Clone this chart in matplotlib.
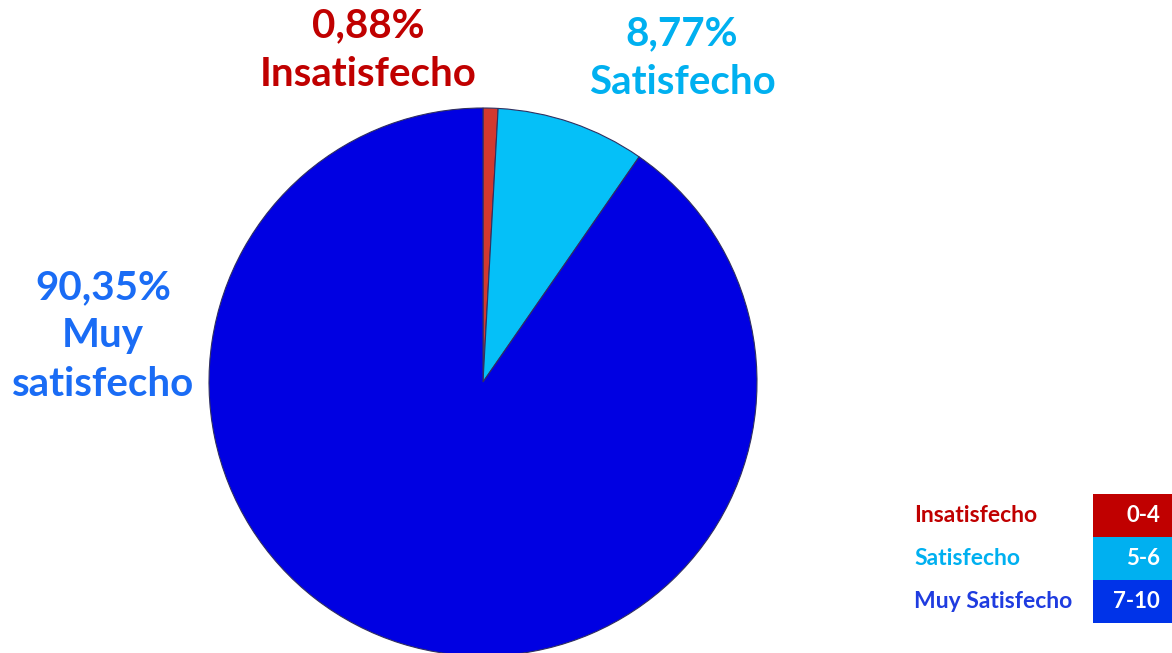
import matplotlib.pyplot as plt

plt.rcParams["font.family"] = ["Lato", "DejaVu Sans"]

CATEGORIES = ["Insatisfecho", "Satisfecho", "Muy Satisfecho"]
SHARES = [0.88, 8.77, 90.35]
LABELS = ["0,88%\nInsatisfecho", "8,77%\nSatisfecho", "90,35%\nMuy\nsatisfecho"]
RANGES = ["0-4", "5-6", "7-10"]

SLICE_COLORS = ["#D2392F", "#05C0F8", "#0000E2"]
TEXT_COLORS = ["#C00000", "#00B0F0", "#1A6CF5"]
LEGEND_TEXT = ["#C00000", "#00B0F0", "#1F3CE0"]
BOX_COLORS = ["#C00000", "#00B0F0", "#0033E8"]

W, H = 1172, 653
fig = plt.figure(figsize=(W / 100, H / 100), dpi=100)
ax = fig.add_axes([0, 0, 1, 1])

# pie in pixel coordinates (y measured from the bottom)
ax.pie(
    SHARES,
    colors=SLICE_COLORS,
    startangle=90,
    counterclock=False,
    center=(483, H - 382),
    radius=274,
    wedgeprops=dict(edgecolor="#303060", linewidth=0.8),
)
ax.set_xlim(0, W)
ax.set_ylim(0, H)
ax.set_aspect("equal")
ax.axis("off")

label_pos = [(368, H - 50), (682, H - 58), (103, H - 336)]
for (x, y), txt, col in zip(label_pos, LABELS, TEXT_COLORS):
    ax.text(x, y, txt, ha="center", va="center", color=col,
            fontsize=29, fontweight="bold", linespacing=1.38)

# legend table bottom right
row_h = 43
top = H - 494
for i, (cat, rng) in enumerate(zip(CATEGORIES, RANGES)):
    y0 = top - (i + 1) * row_h
    ax.add_patch(plt.Rectangle((1093, y0), 79, row_h, facecolor=BOX_COLORS[i],
                               edgecolor="none"))
    ax.text(1160, y0 + row_h / 2, rng, ha="right", va="center", color="white",
            fontsize=16, fontweight="bold")
    ax.text(914, y0 + row_h / 2, cat, ha="left", va="center",
            color=LEGEND_TEXT[i], fontsize=16.5, fontweight="bold")

fig.savefig("out.png", dpi=100)
